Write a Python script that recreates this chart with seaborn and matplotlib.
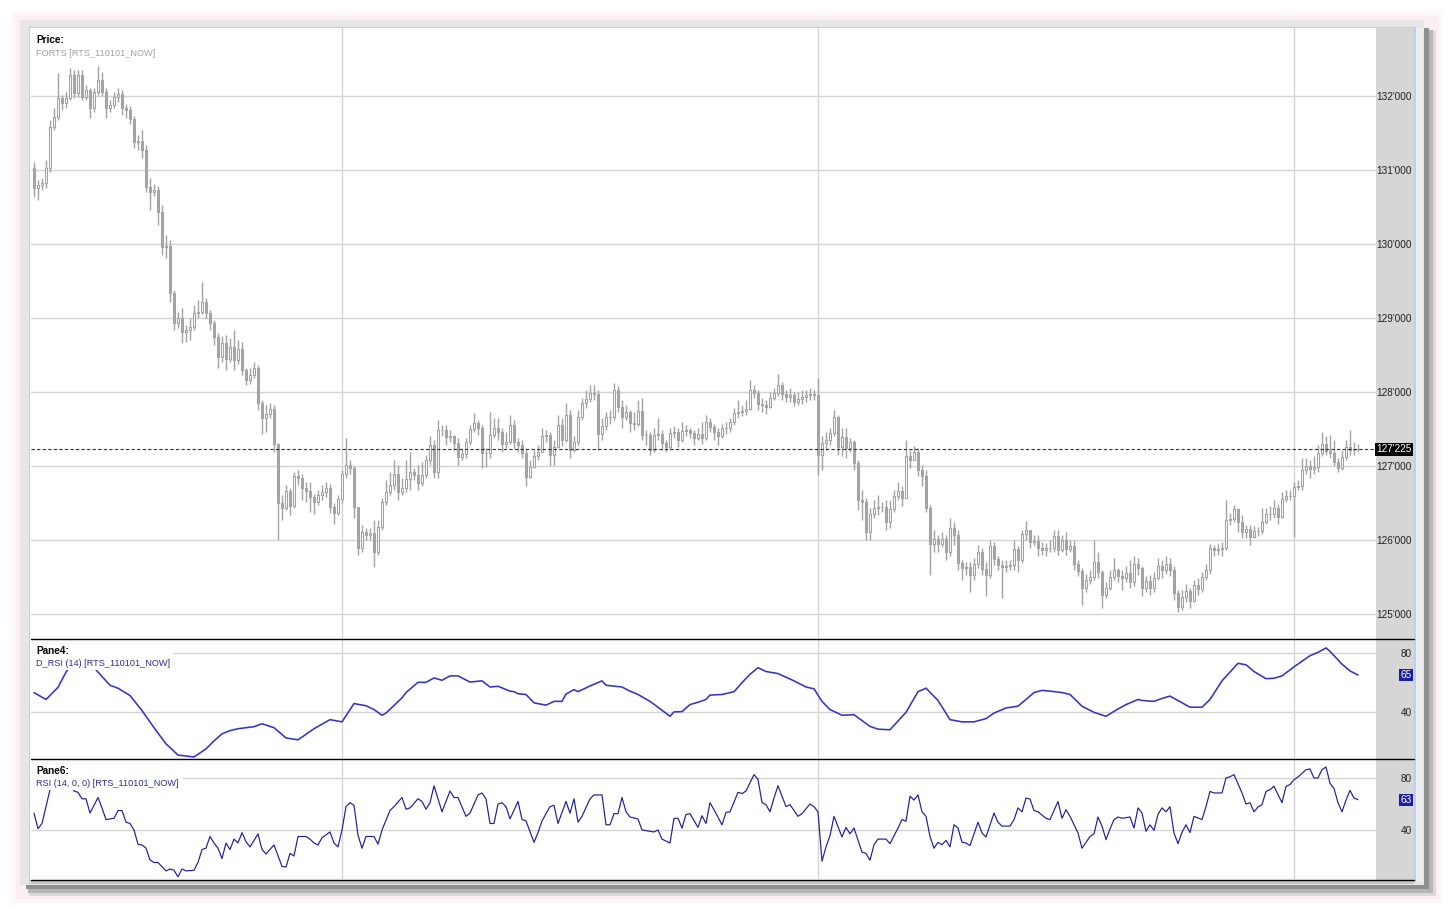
import numpy as np
import pandas as pd
import matplotlib
matplotlib.use("Agg")
import matplotlib.pyplot as plt
import matplotlib.patches as mpatches
import matplotlib.transforms as mtransforms
import seaborn as sns

# ---- price bars (one per bar) ----
closes = [
    130755, 130795, 130825, 131025, 131580, 131715, 131970, 131905, 131970, 132280,
    132040, 132280, 131985, 132080, 131835, 132055, 132215, 132055, 131835, 131875,
    131985, 132025, 131835, 131810, 131690, 131375, 131390, 131270, 130770, 130700,
    130730, 130430, 129960, 129970, 129335, 128930, 129000, 128810, 128835, 128880,
    129065, 129080, 129215, 129065, 128930, 128745, 128475, 128660, 128445, 128610,
    128430, 128580, 128295, 128160, 128230, 128325, 127850, 127650, 127705, 127770,
    127295, 126500, 126435, 126660, 126460, 126865, 126840, 126705, 126660, 126580,
    126515, 126610, 126650, 126705, 126445, 126365, 126555, 126890, 127015, 126975,
    126445, 125890, 126110, 126070, 126095, 125840, 126175, 126515, 126650, 126745,
    126890, 126650, 126705, 126825, 126920, 126880, 126770, 126880, 127080, 127285,
    126920, 127485, 127485, 127390, 127405, 127310, 127120, 127160, 127325, 127500,
    127580, 127515, 127175, 127175, 127420, 127515, 127460, 127295, 127325, 127555,
    127325, 127285, 127175, 126850, 126985, 127135, 127190, 127405, 127420, 127150,
    127255, 127555, 127350, 127690, 127215, 127325, 127660, 127850, 127905, 127985,
    127975, 127430, 127540, 127660, 127660, 128025, 127795, 127660, 127730, 127580,
    127565, 127745, 127420, 127420, 127215, 127420, 127430, 127310, 127255, 127445,
    127460, 127350, 127475, 127485, 127445, 127380, 127430, 127380, 127595, 127525,
    127460, 127405, 127515, 127515, 127595, 127715, 127730, 127745, 127770, 128025,
    127985, 127840, 127825, 127795, 127920, 127985, 128095, 127975, 127930, 127960,
    127865, 127905, 127930, 127960, 127975, 127960, 127150, 127310, 127350, 127445,
    127660, 127255, 127390, 127245, 127325, 127040, 126540, 126515, 126110, 126350,
    126435, 126445, 126445, 126245, 126420, 126595, 126660, 126570, 127135, 127080,
    127190, 126945, 126865, 126435, 125945, 126015, 125945, 126015, 125840, 126160,
    126070, 125690, 125620, 125635, 125525, 125675, 125840, 125610, 125525, 125920,
    125745, 125665, 125635, 125650, 125665, 125880, 125730, 126080, 126135, 125975,
    125985, 125890, 125865, 125890, 125890, 126055, 125865, 126000, 125880, 125920,
    125675, 125580, 125350, 125460, 125500, 125705, 125570, 125255, 125350, 125500,
    125595, 125515, 125485, 125555, 125435, 125675, 125620, 125350, 125445, 125350,
    125485, 125650, 125595, 125675, 125595, 125285, 125095, 125230, 125310, 125175,
    125390, 125340, 125500, 125595, 125890, 125865, 125880, 125890, 126270, 126285,
    126420, 126245, 126110, 126150, 126040, 126120, 126120, 126245, 126350, 126350,
    126435, 126310, 126555, 126595, 126595, 126715, 126730, 126945, 127000, 126960,
    126985, 127175, 127295, 127205, 127175, 127055, 126975, 127120, 127255, 127215,
    127230, 127225,
]
first_open = 131025

highs = [
    131105, 130865, 130890, 131135, 131675, 131835, 132310, 132010, 132055, 132375,
    132350, 132350, 132350, 132145, 132105, 132105, 132405, 132325, 132105, 131945,
    132055, 132105, 132080, 131890, 131865, 131730, 131470, 131540, 131335, 130890,
    130810, 130785, 130525, 130120, 130055, 129380, 129080, 129135, 128905, 129000,
    129175, 129245, 129485, 129270, 129110, 128970, 128795, 128755, 128770, 128730,
    128835, 128700, 128675, 128325, 128325, 128405, 128365, 127890, 127825, 127850,
    127825, 127310, 126610, 126745, 126705, 126920, 126945, 126890, 126785, 126785,
    126620, 126675, 126745, 126785, 126755, 126500, 126610, 126945, 127380, 127080,
    127000, 126435, 126205, 126160, 126160, 126270, 126270, 126570, 126810, 126920,
    127080, 127015, 126840, 127080, 127190, 126975, 127015, 127055, 127150, 127405,
    127350, 127620, 127555, 127555, 127485, 127420, 127380, 127245, 127380, 127555,
    127715, 127620, 127555, 127245, 127730, 127650, 127650, 127515, 127460, 127690,
    127620, 127380, 127350, 127245, 127080, 127215, 127285, 127515, 127485, 127460,
    127350, 127690, 127650, 127850, 127755, 127405, 127755, 127920, 128025, 128095,
    128095, 128025, 127650, 127730, 127755, 128120, 128080, 127890, 127825, 127755,
    127730, 127890, 127920, 127485, 127460, 127515, 127650, 127485, 127350, 127515,
    127540, 127515, 127595, 127555, 127515, 127485, 127515, 127595, 127690, 127650,
    127565, 127515, 127565, 127595, 127650, 127785, 127890, 127825, 127890, 128160,
    128095, 128025, 127920, 127890, 128000, 128055, 128245, 128135, 128025, 128055,
    128000, 128000, 128025, 128025, 128055, 128025, 128190, 127405, 127460, 127515,
    127755, 127690, 127515, 127515, 127380, 127350, 127080, 126675, 126570, 126435,
    126540, 126610, 126515, 126540, 126540, 126675, 126785, 126730, 127350, 127215,
    127270, 127245, 127015, 126945, 126475, 126135, 126070, 126110, 126070, 126295,
    126245, 126135, 125730, 125705, 125705, 125755, 125935, 125890, 125705, 126000,
    125975, 125785, 125730, 125730, 125730, 126000, 125920, 126135, 126255, 126135,
    126070, 126070, 125975, 125960, 126000, 126135, 126135, 126070, 126110, 126000,
    126000, 125730, 125620, 125540, 125595, 126000, 125840, 125595, 125435, 125595,
    125755, 125620, 125595, 125650, 125730, 125785, 125755, 125650, 125515, 125525,
    125570, 125755, 125730, 125785, 125755, 125650, 125325, 125325, 125405, 125350,
    125460, 125485, 125570, 125675, 125945, 125935, 125945, 125975, 126540, 126365,
    126475, 126435, 126340, 126205, 126205, 126190, 126175, 126435, 126435, 126460,
    126540, 126485, 126650, 126675, 126675, 126785, 126810, 127110, 127110, 127080,
    127135, 127285, 127460, 127405, 127420, 127350, 127110, 127215, 127350, 127485,
    127325, 127295,
]

lows = [
    130635, 130595, 130730, 130755, 130970, 131540, 131675, 131810, 131835, 131945,
    131970, 131985, 131945, 131945, 131700, 131785, 132010, 132000, 131700, 131785,
    131835, 131920, 131740, 131700, 131620, 131295, 131270, 131160, 130700, 130460,
    130650, 130255, 129850, 129810, 129215, 128835, 128865, 128660, 128675, 128700,
    128835, 129000, 129055, 129000, 128835, 128635, 128325, 128405, 128295, 128405,
    128295, 128380, 128230, 128095, 128110, 128190, 127755, 127430, 127460, 127650,
    127190, 126000, 126270, 126405, 126340, 126435, 126745, 126540, 126515, 126380,
    126350, 126475, 126540, 126580, 126365, 126215, 126340, 126500, 126840, 126890,
    126295, 125800, 125840, 126000, 126000, 125635, 125800, 126135, 126475, 126610,
    126675, 126540, 126610, 126650, 126675, 126810, 126675, 126730, 126840, 127015,
    126840, 126840, 127405, 127285, 127325, 127215, 127015, 127080, 127110, 127285,
    127460, 127420, 126975, 126985, 127110, 127380, 127350, 127190, 127245, 127295,
    127245, 127190, 127110, 126730, 126840, 126975, 127080, 127190, 127325, 127000,
    127015, 127245, 127270, 127325, 127110, 127190, 127285, 127620, 127785, 127865,
    127890, 127215, 127350, 127485, 127565, 127620, 127730, 127515, 127620, 127460,
    127485, 127540, 127350, 127285, 127150, 127190, 127350, 127215, 127190, 127215,
    127380, 127255, 127325, 127405, 127380, 127285, 127350, 127295, 127350, 127460,
    127350, 127285, 127380, 127430, 127460, 127555, 127650, 127675, 127690, 127755,
    127920, 127755, 127730, 127705, 127785, 127890, 127945, 127890, 127865, 127865,
    127810, 127825, 127840, 127865, 127890, 127890, 126880, 126945, 127215, 127285,
    127405, 127150, 127135, 127110, 127190, 126945, 126405, 126270, 126000, 126000,
    126295, 126340, 126380, 126135, 126160, 126380, 126540, 126460, 126570, 126975,
    127080, 126865, 126730, 126380, 125525, 125840, 125840, 125905, 125730, 125785,
    125935, 125595, 125460, 125525, 125300, 125460, 125620, 125525, 125245, 125485,
    125665, 125595, 125215, 125570, 125595, 125595, 125570, 125690, 126000, 125890,
    125920, 125785, 125800, 125785, 125840, 125840, 125800, 125840, 125800, 125840,
    125595, 125515, 125120, 125300, 125405, 125460, 125485, 125080, 125215, 125325,
    125460, 125435, 125325, 125435, 125350, 125380, 125525, 125245, 125300, 125255,
    125300, 125460, 125485, 125540, 125515, 125190, 125030, 125055, 125165, 125080,
    125165, 125255, 125300, 125460, 125540, 125785, 125800, 125785, 125865, 126205,
    126245, 126110, 126025, 126025, 125935, 126025, 126055, 126080, 126215, 126270,
    126295, 126215, 126295, 126515, 126540, 126040, 126675, 126675, 126890, 126840,
    126890, 126920, 127135, 127150, 127110, 127000, 126920, 126945, 127080, 127150,
    127150, 127190,
]

last_price = 127225

# ---- D_RSI (14), pane 4 ----
drsi_bar = [0, 3, 6, 8, 10, 12, 14, 16, 19, 21, 24, 27, 30, 33, 36, 40, 43, 45, 47, 49,
            51, 55, 57, 60, 63, 66, 70, 74, 77, 80, 83, 85, 87, 88, 92, 93, 96, 98, 100, 102,
            104, 106, 109, 112, 114, 116, 119, 120, 121, 123, 125, 128, 130, 132, 133, 135, 136, 139, 142, 143,
            147, 149, 151, 154, 156, 159, 160, 162, 164, 166, 168, 169, 172, 175, 177, 179, 181, 183, 186, 190,
            193, 195, 197, 199, 202, 205, 209, 211, 214, 218, 221, 223, 226, 229, 232, 235, 238, 240, 243, 246,
            248, 250, 252, 254, 257, 259, 262, 265, 268, 271, 273, 276, 277, 280, 282, 284, 287, 289, 292, 294,
            297, 301, 303, 305, 308, 310, 312, 315, 319, 321, 323, 324, 327, 329, 331]
drsi_val = [53, 48.3, 56.6, 67, 75, 76.5, 73, 67, 58, 56, 51, 40.7, 29, 18, 10.3, 9, 14.5, 20, 24.8, 27,
            28.3, 29.7, 31.7, 29, 22, 20.7, 28.3, 34.5, 33, 45.5, 44, 41.4, 37.5, 39, 49.4, 53, 60, 60, 63, 61.4,
            64.4, 64.4, 60.2, 61, 56.8, 57.3, 54, 53.6, 52.2, 51.7, 46, 44.4, 47, 47, 52, 55, 53.6, 57.5, 61, 58,
            56.8, 54, 51.7, 47, 43, 36.8, 39.8, 40, 44.8, 46.4, 48.3, 51.3, 51.7, 53.6, 59.8, 65.5, 70, 67.4, 66, 61,
            56.8, 55.6, 47, 41.4, 37.5, 37.9, 29.9, 28, 27.6, 39.5, 53.6, 56, 47.6, 34.5, 33, 33, 35.2, 39, 42.5, 43.7,
            48.3, 53, 54.5, 54, 53, 51.7, 43.7, 39.5, 36.8, 41.8, 44.8, 48.3, 47.6, 47, 49, 50.6, 46, 43, 43, 48.3,
            61, 73, 72, 67.4, 62.5, 62.8, 64.4, 70.6, 78.2, 80.5, 83.5, 81.2, 72.4, 67.8, 65]

# ---- RSI (14, 0, 0), pane 6 ----
rsi_bar = [0, 1, 2, 3, 4, 5, 6, 7, 8, 9, 10, 11, 12, 13, 14, 16, 17, 18, 20, 21,
           22, 23, 24, 25, 26, 27, 28, 29, 30, 31, 33, 34, 35, 36, 37, 38, 40, 41, 42, 43,
           44, 45, 46, 47, 48, 49, 50, 51, 52, 53, 54, 56, 57, 58, 60, 62, 63, 64, 65, 66,
           68, 69, 70, 71, 72, 74, 75, 76, 77, 78, 79, 80, 81, 82, 83, 85, 86, 87, 89, 90,
           92, 93, 94, 96, 97, 98, 99, 100, 102, 104, 105, 106, 108, 109, 111, 112, 113, 114, 115, 116,
           117, 118, 119, 121, 122, 123, 125, 126, 127, 129, 130, 131, 133, 134, 135, 136, 137, 139, 140, 142,
           143, 144, 145, 146, 147, 148, 149, 151, 152, 155, 156, 157, 159, 160, 161, 162, 163, 164, 166, 167,
           168, 169, 170, 172, 173, 174, 176, 177, 178, 180, 181, 182, 183, 184, 185, 186, 188, 189, 190, 191,
           192, 194, 195, 196, 197, 198, 199, 200, 202, 203, 204, 205, 207, 208, 209, 210, 211, 213, 214, 216,
           217, 218, 219, 220, 221, 222, 223, 224, 225, 226, 227, 228, 229, 230, 231, 232, 233, 234, 236, 237,
           238, 240, 241, 242, 244, 245, 246, 247, 248, 249, 250, 251, 253, 254, 256, 257, 258, 259, 261, 262,
           264, 265, 266, 267, 268, 269, 270, 271, 272, 274, 275, 276, 277, 278, 279, 280, 281, 282, 283, 284,
           285, 286, 287, 288, 289, 290, 292, 293, 294, 295, 297, 298, 299, 300, 302, 303, 304, 305, 306, 307,
           308, 309, 310, 312, 313, 314, 315, 316, 318, 319, 320, 321, 322, 323, 324, 325, 326, 327, 328, 329,
           330, 331]
rsi_val = [53, 41, 45, 58, 71, 76, 80, 77, 81, 74, 70, 69, 64, 64, 53, 65, 57, 48, 49, 55,
           55, 46, 45, 40, 29, 28.5, 26, 17, 15, 15, 8.5, 10, 9, 4, 10, 8.5, 9, 15, 25, 26,
           35, 30, 26, 18, 30, 25, 33, 30, 38, 31, 27, 37, 25, 21.5, 28.5, 12, 11.5, 22, 20, 35,
           35, 33, 30, 28.5, 34, 38.5, 30, 27, 40, 58, 61, 59, 36, 26, 35, 35, 29, 40, 55, 58,
           65, 56, 57, 64, 62, 56, 61, 74, 54, 70, 65, 65, 50.5, 53, 67, 68.5, 64, 45, 45, 60,
           61, 58, 48.5, 62, 48, 47, 30.5, 38, 47, 58, 59, 45, 62, 53, 64, 46, 50.5, 64, 67, 67,
           44, 44, 52.6, 52.6, 65, 54, 50, 48.5, 40, 38.5, 40, 33, 30, 49, 49, 41.5, 52, 52.6, 42, 51,
           45, 61, 55.6, 44, 53.6, 54, 69, 68, 70, 82.6, 79, 61, 59.5, 54, 64.6, 74, 58, 59.5, 55, 50.5,
           52.6, 60, 58, 54, 16, 27, 35.6, 50.5, 34.6, 42, 37, 41.5, 23, 22, 16.7, 28.7, 33, 33, 29.5, 41.5,
           48, 46.7, 66, 63, 67, 54, 50.5, 35, 26, 30.5, 28.7, 32, 27, 44, 41.5, 30.5, 30, 28, 46, 37.7,
           34.6, 53, 46, 43, 43, 48, 57, 54, 64.6, 63.8, 55, 54, 49, 48, 62, 49, 55.6, 50.5, 37.7, 26,
           35, 37, 50, 43, 32.6, 40.8, 48, 50, 49, 50, 41.5, 57, 53, 39, 44, 39.7, 52, 57, 54, 58,
           37.7, 29.5, 38.2, 44, 38, 50.5, 48, 58, 69.7, 68.5, 68.5, 80, 81, 82.6, 68.5, 60, 61, 54, 57.7, 59.5,
           69.7, 71, 73.6, 61, 73.6, 75, 78.7, 80.8, 86.4, 87, 80, 80, 86.4, 88.5, 76, 72, 61, 54, 63, 70.5,
           64.6, 63.3]

price_ticks = [125000, 126000, 127000, 128000, 129000, 130000, 131000, 132000]
osc_ticks = [40, 80]
marker_bars = [77, 196, 315]

# ---------------------------------------------------------------
W, H = 1448, 907
sns.set_style("white")
plt.rcParams['font.family'] = ['Liberation Sans', 'DejaVu Sans']

bars = pd.DataFrame({"close": closes, "high": highs, "low": lows})
bars["bar"] = np.arange(len(bars))
bars["open"] = bars["close"].shift(1).fillna(first_open)
bars["high"] = bars[["high", "open", "close"]].max(axis=1)
bars["low"] = bars[["low", "open", "close"]].min(axis=1)
up = bars["close"] >= bars["open"]

drsi = pd.DataFrame({"bar": drsi_bar, "value": drsi_val})
rsi = pd.DataFrame({"bar": rsi_bar, "value": rsi_val})

fig = plt.figure(figsize=(W / 100, H / 100), dpi=100)
fig.patch.set_facecolor("white")

# window frame, drawn in pixel space
bg = fig.add_axes([0, 0, 1, 1], zorder=0)
bg.set_xlim(0, W)
bg.set_ylim(H, 0)
bg.axis("off")


def rect(ax, x0, y0, x1, y1, color, z=1):
    ax.add_patch(mpatches.Rectangle((x0, y0), x1 - x0, y1 - y0, facecolor=color,
                                    edgecolor="none", zorder=z))


rect(bg, 12, 12, 1442, 903, "#fdf7f8", 0)
rect(bg, 16, 16, 1439, 899, "#fbeff1", 0)
rect(bg, 29, 31, 1436, 896, "#dadada", 1)
rect(bg, 28, 30, 1433, 893, "#b6b6b6", 1)
rect(bg, 26, 28, 1429, 889, "#8e8e8e", 1)
rect(bg, 20, 20, 1424, 885, "#e6e6e6", 2)
rect(bg, 29, 27, 1416, 882, "#bcd0ec", 3)
rect(bg, 30, 28, 1414, 880, "white", 4)
rect(bg, 1416, 28, 1423, 882, "#eeeef2", 4)
rect(bg, 30, 880, 1414, 884, "#c6c6c6", 4)
rect(bg, 1376, 28, 1414, 880, "#d6d6d6", 5)


def make_pane(y_top, y_bot):
    ax = fig.add_axes([31 / W, 1 - y_bot / H, (1376 - 31) / W, (y_bot - y_top) / H], zorder=2)
    ax.set_facecolor("white")
    for s in ax.spines.values():
        s.set_visible(False)
    ax.set_xlim(-0.75, 335.5)
    ax.set_xticks(marker_bars)
    ax.tick_params(axis="x", length=0, labelbottom=False)
    ax.tick_params(axis="y", length=0, left=False, right=False, labelleft=False,
                   labelright=True, pad=25.9, labelsize=7.2, labelcolor="#202020")
    ax.grid(True, color="#d4d4d4", linewidth=1)
    ax.set_axisbelow(True)
    return ax


ax_p = make_pane(28, 638)
ax_d = make_pane(638, 758)
ax_r = make_pane(758, 879)

# ---- price pane ----
ax_p.set_ylim(124676, 132917)
ax_p.set_yticks(price_ticks, [f"{t // 1000}'{t % 1000:03d}" for t in price_ticks], ha="right")
ax_p.vlines(bars["bar"], bars["low"], bars["high"], color="#a2a2a2", linewidth=1, zorder=2)
body_lo = np.minimum(bars["open"], bars["close"])
body_h = (bars["close"] - bars["open"]).abs()
ax_p.bar(bars["bar"][up], body_h[up], bottom=body_lo[up], width=0.72,
         facecolor="white", edgecolor="#a0a0a0", linewidth=0.75, zorder=3)
ax_p.bar(bars["bar"][~up], body_h[~up], bottom=body_lo[~up], width=0.72,
         facecolor="#a8a8a8", edgecolor="#a2a2a2", linewidth=0.75, zorder=3)
ax_p.axhline(last_price, color="#303030", linewidth=0.8, linestyle=(0, (3, 2)), zorder=4)

# ---- oscillators ----
ax_d.set_ylim(8.3, 90.3)
ax_d.set_yticks(osc_ticks, [str(t) for t in osc_ticks], ha="right")
sns.lineplot(data=drsi, x="bar", y="value", ax=ax_d, color="#3434c4", linewidth=1.15, zorder=3)

ax_r.set_ylim(2.3, 95.4)
ax_r.set_yticks(osc_ticks, [str(t) for t in osc_ticks], ha="right")
sns.lineplot(data=rsi, x="bar", y="value", ax=ax_r, color="#1e1e98", linewidth=0.85, zorder=3)

for ax in (ax_p, ax_d, ax_r):
    ax.set_xlabel("")
    ax.set_ylabel("")
    ax.set_xlim(-0.75, 335.5)

# last value badges on the right scale
bx = (1411.5 - 31) / (1376 - 31)
ax_p.text(bx, last_price, f"{last_price // 1000}'{last_price % 1000:03d}", ha="right", va="center",
          fontsize=7.2, color="white", transform=mtransforms.blended_transform_factory(ax_p.transAxes, ax_p.transData),
          clip_on=False, zorder=6, bbox=dict(boxstyle="square,pad=0.12", facecolor="black", edgecolor="none"))
ax_d.text(bx, drsi_val[-1], f"{drsi_val[-1]:.0f}", ha="right", va="center", fontsize=7.2, color="white",
          transform=mtransforms.blended_transform_factory(ax_d.transAxes, ax_d.transData),
          clip_on=False, zorder=6, bbox=dict(boxstyle="square,pad=0.12", facecolor="#1c1ca6", edgecolor="none"))
ax_r.text(bx, round(rsi_val[-1]), f"{rsi_val[-1]:.0f}", ha="right", va="center", fontsize=7.2, color="white",
          transform=mtransforms.blended_transform_factory(ax_r.transAxes, ax_r.transData),
          clip_on=False, zorder=6, bbox=dict(boxstyle="square,pad=0.12", facecolor="#1c1ca6", edgecolor="none"))

# overlay: pane separators and legends
fg = fig.add_axes([0, 0, 1, 1], zorder=5)
fg.set_xlim(0, W)
fg.set_ylim(H, 0)
fg.axis("off")
for yy in (638.5, 758.5, 879.5):
    fg.plot([31, 1414], [yy, yy], color="black", linewidth=1)

rect(fg, 31, 31, 158, 60, "white", 2)
rect(fg, 31, 641, 173, 670, "white", 2)
rect(fg, 31, 761, 183, 790, "white", 2)

fg.text(36, 40, "Price:", fontsize=7.2, fontweight="bold", color="black", va="center", zorder=3)
fg.text(36, 53, "FORTS [RTS_110101_NOW]", fontsize=6.6, color="#a0a0a0", va="center", zorder=3)
fg.text(36, 651, "Pane4:", fontsize=7.2, fontweight="bold", color="black", va="center", zorder=3)
fg.text(36, 664, "D_RSI (14) [RTS_110101_NOW]", fontsize=6.6, color="#2c2c90", va="center", zorder=3)
fg.text(36, 771, "Pane6:", fontsize=7.2, fontweight="bold", color="black", va="center", zorder=3)
fg.text(36, 784, "RSI (14, 0, 0) [RTS_110101_NOW]", fontsize=6.6, color="#2c2c90", va="center", zorder=3)

fig.savefig("out.png", dpi=100, facecolor=fig.get_facecolor())
